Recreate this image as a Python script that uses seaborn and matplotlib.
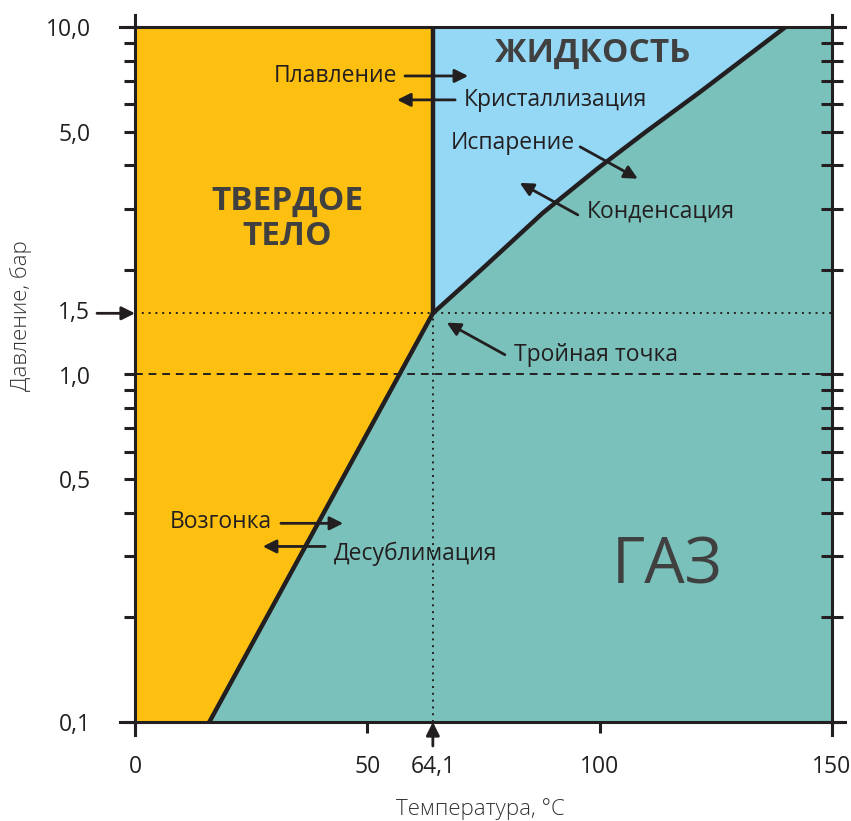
import numpy as np
import pandas as pd
import matplotlib.pyplot as plt
from matplotlib.ticker import LogLocator, NullFormatter, FixedLocator
import seaborn as sns

# Фазовая диаграмма: температура (°C), давление (бар)
triple_t = 64.1
triple_p = 1.5

subl_t = [16.0, triple_t]                   # линия возгонки
subl_p = [0.1, triple_p]
melt_t = [triple_t, triple_t]               # линия плавления
melt_p = [triple_p, 10.0]
vap_t = [triple_t, 75.0, 87.8, 99.4, 110.0, 121.6, 140.0]  # линия испарения
vap_p = [triple_p, 2.03, 2.92, 3.9, 5.0, 6.5, 10.0]

x_ticks = [0, 50, 100, 150]
x_labels = ['0', '50', '100', '150']
y_ticks = [0.1, 0.5, 1.0, 5.0, 10.0]
y_labels = ['0,1', '0,5', '1,0', '5,0', '10,0']

c_solid = '#FDC010'
c_liquid = '#94D8F6'
c_gas = '#7AC1BB'
c_ink = '#231F20'
c_big = '#404040'

sns.set_theme(style='ticks')
plt.rcParams['font.family'] = ['Open Sans', 'DejaVu Sans']

fig = plt.figure(figsize=(8.51, 8.21), dpi=100)
ax = fig.add_axes([135 / 851, 1 - 722 / 821, 697 / 851, 695 / 821])
ax.set_yscale('log')
ax.set_xlim(0, 150)
ax.set_ylim(0.1, 10)
ax.set_facecolor(c_gas)

# области фаз
ax.fill([0] + subl_t + [triple_t, 0], [0.1] + subl_p + [10, 10], color=c_solid, lw=0)
ax.fill(vap_t + [triple_t], vap_p + [10], color=c_liquid, lw=0)

# границы фаз
lines = pd.concat([
    pd.DataFrame({'t': subl_t, 'p': subl_p, 'line': 'subl'}),
    pd.DataFrame({'t': melt_t, 'p': melt_p, 'line': 'melt'}),
    pd.DataFrame({'t': vap_t, 'p': vap_p, 'line': 'vap'}),
])
sns.lineplot(data=lines, x='t', y='p', units='line', estimator=None, sort=False,
             color=c_ink, lw=3.2, ax=ax, legend=False)

# вспомогательные линии
ax.axhline(triple_p, color=c_ink, ls=(0, (1, 2.5)), lw=1.4)
ax.plot([triple_t, triple_t], [0.1, triple_p], color=c_ink, ls=(0, (1, 2.5)), lw=1.4)
ax.axhline(1.0, color=c_ink, ls=(0, (4, 3)), lw=1.4)

# оси
for side in ['left', 'right']:
    ax.spines[side].set_bounds(0.0915, 10.8)
for side in ['top', 'bottom']:
    ax.spines[side].set_bounds(-3.2, 152.8)
for sp in ax.spines.values():
    sp.set_color(c_ink)
    sp.set_linewidth(2.2)
    sp.set_visible(True)

ax.yaxis.set_major_locator(FixedLocator(y_ticks))
ax.set_yticklabels(y_labels)
ax.yaxis.set_minor_locator(LogLocator(base=10, subs=np.arange(2, 10)))
ax.yaxis.set_minor_formatter(NullFormatter())
ax.tick_params(axis='y', which='both', direction='inout', length=16, width=2.2,
               color=c_ink, left=True, right=True, labelsize=16.5, pad=24,
               labelcolor=c_ink)
ax.set_xticks(x_ticks)
ax.set_xticklabels(x_labels)
ax.tick_params(axis='x', which='both', direction='out', length=8, width=2.2,
               color=c_ink, labelsize=16.5, pad=16, labelcolor=c_ink)
ax.tick_params(axis='x', which='minor', bottom=False)

ax.set_xlabel('Температура, °С', fontsize=16, color='#333333', fontweight='light')
ax.xaxis.set_label_coords(0.495, -0.11)
ax.set_ylabel('Давление, бар', fontsize=16, color='#333333', fontweight='light')
ax.yaxis.set_label_coords(-0.148, 0.585)

# отметки тройной точки на осях
arrow = dict(arrowstyle='-|>', color=c_ink, lw=2, mutation_scale=20,
             shrinkA=0, shrinkB=0)
ax.annotate('', xy=(0, triple_p), xytext=(-38, 0), textcoords='offset pixels',
            arrowprops=arrow, annotation_clip=False)
ax.annotate('1,5', xy=(0, triple_p), xytext=(-45, 0), textcoords='offset pixels',
            ha='right', va='center', fontsize=16.5, color=c_ink, annotation_clip=False)
ax.annotate('', xy=(triple_t, 0.1), xytext=(0, -24), textcoords='offset pixels',
            arrowprops=arrow, annotation_clip=False)
ax.annotate('64,1', xy=(triple_t, 0.1), xytext=(0, -33), textcoords='offset pixels',
            ha='center', va='top', fontsize=16.5, color=c_ink, annotation_clip=False)

# названия фаз
ax.text(32.7, 2.8, 'ТВЕРДОЕ\nТЕЛО', ha='center', va='center', fontsize=24,
        fontweight='bold', color=c_big, linespacing=1.1)
ax.text(98.6, 8.4, 'ЖИДКОСТЬ', ha='center', va='center', fontsize=24,
        fontweight='bold', color=c_big)
ax.text(114.5, 0.28, 'ГАЗ', ha='center', va='center', fontsize=46, color=c_big)

# переходы
def note(label, txy, a_from, a_to):
    ax.text(txy[0], txy[1], label, ha='center', va='center', fontsize=16.5, color=c_ink)
    ax.annotate('', xy=a_to, xytext=a_from, arrowprops=arrow)

note('Плавление', (43.2, 7.23), (58.1, 7.23), (71.7, 7.23))
note('Кристаллизация', (90.4, 6.17), (68.9, 6.17), (56.4, 6.17))
note('Испарение', (81.3, 4.64), (95.8, 4.52), (108.2, 3.66))
note('Конденсация', (113.2, 2.94), (95.3, 2.88), (82.8, 3.56))
note('Тройная точка', (99.2, 1.14), (79.6, 1.14), (67.1, 1.41))
note('Возгонка', (18.5, 0.376), (31.4, 0.373), (44.8, 0.373))
note('Десублимация', (60.3, 0.304), (40.9, 0.32), (27.5, 0.32))

fig.savefig('out.png', dpi=100)
